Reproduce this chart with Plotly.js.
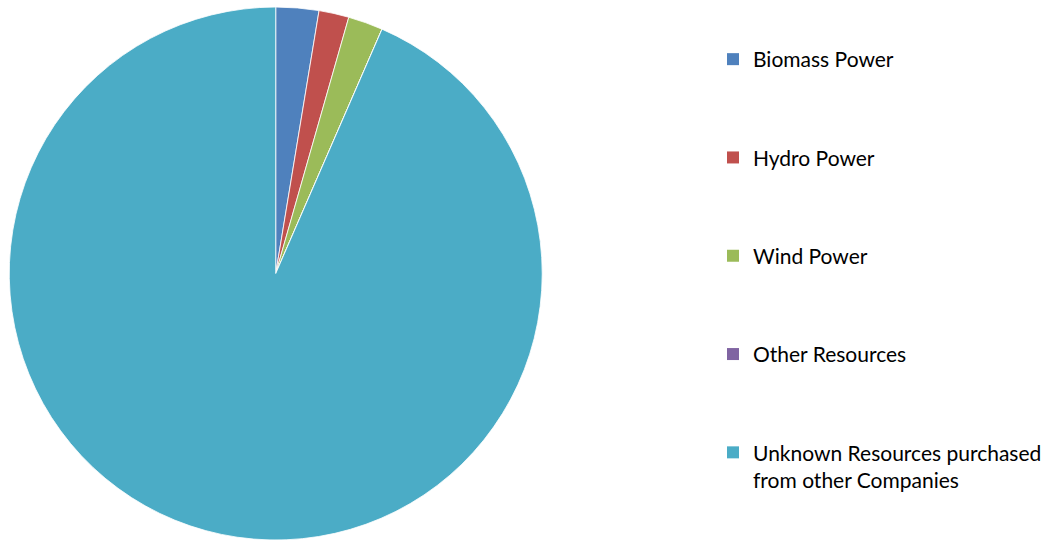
<!DOCTYPE html>
<html>
<head>
<meta charset="utf-8">
<script src="https://cdn.plot.ly/plotly-3.0.1.min.js"></script>
<style>html,body{margin:0;padding:0;background:#fff;}#chart{width:1047px;height:542px;}</style>
</head>
<body>
<div id="chart"></div>
<script>
const categories = ["Biomass Power", "Hydro Power", "Wind Power", "Other Resources", "Unknown Resources purchased<br>from other Companies"];
const shares = [2.6, 1.82, 2.11, 0, 93.47];
const colors = ["#4F81BD", "#C0504D", "#9BBB59", "#8064A2", "#4BACC6"];

const pie = {
  type: "pie",
  labels: categories,
  values: shares,
  sort: false,
  direction: "clockwise",
  rotation: 0,
  textinfo: "none",
  hoverinfo: "label+percent",
  marker: {colors: colors, line: {color: "rgba(255,255,255,0.8)", width: 1}},
  showlegend: false,
  domain: {x: [0.0086, 0.5186], y: [0.0037, 0.987]}
};

const legendTraces = categories.map((c, i) => ({
  type: "scatter",
  mode: "markers",
  x: [null], y: [null],
  name: c,
  legendgroup: "g" + i,
  marker: {symbol: "square", size: 12, color: colors[i]},
  hoverinfo: "skip",
  showlegend: true
}));

const layout = {
  width: 1047, height: 542,
  margin: {l: 0, r: 0, t: 0, b: 0},
  paper_bgcolor: "#ffffff",
  plot_bgcolor: "#ffffff",
  font: {family: "Lato, 'Open Sans', sans-serif", color: "#000000", size: 21},
  xaxis: {visible: false},
  yaxis: {visible: false},
  showlegend: true,
  legend: {
    x: 714 / 1047, xanchor: "left",
    y: 1 - 39 / 542, yanchor: "top",
    traceorder: "grouped",
    tracegroupgap: 68,
    bgcolor: "rgba(0,0,0,0)",
    font: {size: 21, color: "#000000"},
    valign: "top"
  }
};

Plotly.newPlot("chart", [pie].concat(legendTraces), layout, {displayModeBar: false, staticPlot: true});
</script>
</body>
</html>
